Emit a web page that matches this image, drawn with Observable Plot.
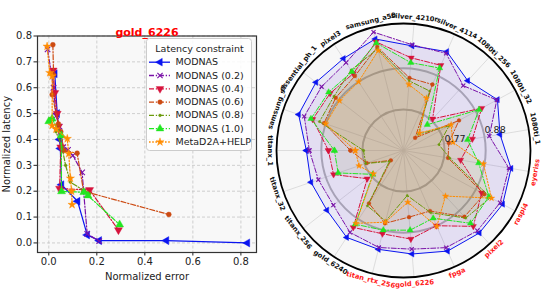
<!DOCTYPE html>
<html><head><meta charset="utf-8">
<script src="https://cdn.jsdelivr.net/npm/d3@7"></script>
<script src="https://cdn.jsdelivr.net/npm/@observablehq/plot@0.6"></script>
<style>
body{margin:0;background:#fff;font-family:"DejaVu Sans",sans-serif;}
#wrap{position:relative;width:541px;height:293px;overflow:hidden;background:#fff;}
#wrap svg{position:absolute;}
</style></head><body><div id="wrap"></div>
<script>
// ---------- data ----------
const seriesNames = ["MODNAS","MODNAS (0.2)","MODNAS (0.4)","MODNAS (0.6)","MODNAS (0.8)","MODNAS (1.0)","MetaD2A+HELP"];
const plotTitle = "gold_6226";
const xTicks = [0.0,0.2,0.4,0.6,0.8];
const yTicks = [0.0,0.1,0.2,0.3,0.4,0.5,0.6,0.7,0.8];

// Pareto fronts: normalized error / normalized latency
const errMODNAS = [0.025,0.035,0.045,0.048,0.053,0.12,0.16,0.21,0.49,0.827];
const latMODNAS = [0.654,0.50,0.40,0.365,0.225,0.161,0.031,0.009,0.009,0.0];
const err02 = [-0.005,0.02,0.03,0.045,0.06,0.08,0.10,0.139,0.145,0.16,0.21];
const lat02 = [0.748,0.60,0.49,0.45,0.37,0.36,0.338,0.273,0.20,0.035,0.007];
const err04 = [0.018,0.025,0.035,0.04,0.05,0.045,0.17,0.29];
const lat04 = [0.667,0.58,0.50,0.45,0.37,0.21,0.205,0.05];
const err06 = [0.017,0.02,0.014,0.04,0.05,0.063,0.118,0.145,0.50];
const lat06 = [0.766,0.65,0.573,0.46,0.43,0.357,0.347,0.20,0.11];
const err08 = [0.005,0.03,0.055,0.07,0.09,0.15,0.17];
const lat08 = [0.48,0.43,0.37,0.30,0.235,0.20,0.19];
const err10 = [0.0,0.014,0.052,0.053,0.146,0.163,0.295];
const lat10 = [0.47,0.48,0.415,0.199,0.196,0.183,0.071];
const errHELP = [-0.007,0.004,0.014,0.014,0.03,0.077,0.083,0.09,0.095,0.097];
const latHELP = [0.76,0.658,0.645,0.454,0.44,0.403,0.345,0.25,0.20,0.148];

// Radar: devices (clockwise from the left) and values per series
const devices = ["titanx_1","samsung_s7","essential_ph_1","pixel3","samsung_a50","silver_4210r","silver_4114","1080ti_256","1080ti_32","1080ti_1","eyeriss","raspi4","pixel2","fpga","gold_6226","titan_rtx_256","gold_6240","titanx_256","titanx_32"];
const redDevices = ["eyeriss","raspi4","pixel2","fpga","gold_6226","titan_rtx_256"];
const radialTicks = [0.77,0.88];
const radialDomain = [0.66,1.0];
const radMODNAS = [0.920,0.957,0.957,0.954,0.968,0.941,0.949,0.914,0.946,0.922,0.952,0.962,0.960,0.954,0.938,0.933,0.938,0.920,0.922];
const rad02 = [0.912,0.941,0.938,0.941,0.987,0.944,0.944,0.896,0.944,0.893,0.946,0.954,0.952,0.944,0.925,0.928,0.922,0.898,0.901];
const rad04 = [0.861,0.917,0.909,0.906,0.960,0.909,0.909,0.775,0.898,0.847,0.815,0.898,0.936,0.880,0.898,0.890,0.906,0.783,0.858];
const rad06 = [0.802,0.885,0.890,0.898,0.946,0.855,0.853,0.706,0.829,0.783,0.781,0.906,0.901,0.837,0.839,0.861,0.829,0.703,0.764];
const rad08 = [0.767,0.898,0.896,0.917,0.941,0.847,0.834,0.719,0.799,0.756,0.786,0.925,0.906,0.842,0.781,0.855,0.837,0.708,0.767];
const rad10 = [0.845,0.922,0.914,0.912,0.957,0.896,0.901,0.754,0.890,0.834,0.864,0.920,0.925,0.858,0.874,0.880,0.896,0.764,0.845];
const radHELP = [0.789,0.880,0.877,0.880,0.936,0.837,0.813,0.724,0.805,0.794,0.877,0.928,0.826,0.882,0.799,0.858,0.893,0.762,0.786];

// ---------- styles ----------
const DD = "5,1.8,1.3,1.8";
const styles = [
  {color:"#0a14f0", dash:null, symbol:"triangle", rotate:-90, filled:true, k:1.15, fo:0.06},
  {color:"#7a12a8", dash:DD, symbol:"times", rotate:0, filled:false, k:1.0, fo:0.05},
  {color:"#d6133c", dash:DD, symbol:"triangle", rotate:180, filled:true, k:1.15, fo:0.06},
  {color:"#cc4a12", dash:DD, symbol:"circle", rotate:0, filled:true, k:0.95, fo:0.07},
  {color:"#6b9a0c", dash:DD, symbol:"circle", rotate:0, filled:true, k:0.55, fo:0.07},
  {color:"#22e622", dash:DD, symbol:"triangle", rotate:0, filled:true, k:1.15, fo:0.06},
  {color:"#ff8c00", dash:"1.6,1.6", symbol:"star", rotate:0, filled:true, k:1.0, fo:0.08}
];
const errs = [errMODNAS,err02,err04,err06,err08,err10,errHELP];
const lats = [latMODNAS,lat02,lat04,lat06,lat08,lat10,latHELP];
const rads = [radMODNAS,rad02,rad04,rad06,rad08,rad10,radHELP];

function seriesMarks(pts, st, r, sw) {
  return [
    Plot.line(pts, {x:"x", y:"y", stroke:st.color, strokeWidth:sw, strokeDasharray:st.dash || undefined}),
    Plot.dot(pts, {x:"x", y:"y", symbol:st.symbol, r:r*st.k, rotate:st.rotate,
      fill: st.filled ? st.color : "none", stroke: st.color, strokeWidth: st.filled ? 0.4 : 1.1})
  ];
}

const wrap = document.getElementById("wrap");
const font = "DejaVu Sans";

// ---------- left: Pareto plot ----------
const leftMarks = [
  Plot.frame({fill:"#f8f8f8", stroke:"none"}),
  Plot.ruleX(xTicks, {stroke:"#c4c4c4", strokeWidth:0.8, strokeDasharray:"3,2"}),
  Plot.ruleY(yTicks, {stroke:"#c4c4c4", strokeWidth:0.8, strokeDasharray:"3,2"})
];
seriesNames.forEach((n, i) => {
  const pts = errs[i].map((e, j) => ({x:e, y:lats[i][j]}));
  leftMarks.push(...seriesMarks(pts, styles[i], 2.6, 1.2));
});
leftMarks.push(Plot.frame({stroke:"#333", strokeWidth:1.2}));
leftMarks.push(Plot.text([plotTitle], {frameAnchor:"top", dy:-7.5, fill:"#ff0000", fontWeight:"bold", fontSize:11}));

const left = Plot.plot({
  width:270, height:293,
  marginLeft:37, marginRight:14, marginTop:35.5, marginBottom:41,
  style:{fontFamily:font, fontSize:"10px", background:"transparent", color:"#222", overflow:"visible"},
  x:{domain:[-0.047,0.865], ticks:xTicks, tickFormat:d3.format(".1f"), tickSize:3.5, tickPadding:2,
     label:"Normalized error", labelAnchor:"center", labelOffset:27, labelArrow:"none"},
  y:{domain:[-0.037,0.8], ticks:yTicks, tickFormat:d3.format(".1f"), tickSize:3.5, tickPadding:2,
     label:"Normalized latency", labelAnchor:"center", labelOffset:35, labelArrow:"none"},
  marks:leftMarks
});
left.style.left = "0px"; left.style.top = "0px";
wrap.appendChild(left);

// ---------- legend ----------
const legMarks = [
  Plot.rect([0], {x1:0.5, x2:105.5, y1:0.5, y2:112.5, fill:"white", fillOpacity:0.85, stroke:"#cccccc", rx:3}),
  Plot.text(["Latency constraint"], {x:53, y:10, fontSize:9.5, fill:"#222"})
];
seriesNames.forEach((n, i) => {
  const yy = 23.7 + 13.3*i, st = styles[i];
  legMarks.push(Plot.ruleY([yy], {x1:3, x2:24, y:d=>d, stroke:st.color, strokeWidth:1.3, strokeDasharray:st.dash || undefined}));
  legMarks.push(Plot.dot([yy], {x:13.5, y:d=>d, symbol:st.symbol, r:2.5*st.k, rotate:st.rotate,
    fill: st.filled ? st.color : "none", stroke:st.color, strokeWidth: st.filled ? 0.4 : 1.1}));
  legMarks.push(Plot.text([n], {x:29, y:yy, textAnchor:"start", fontSize:9.5, fill:"#222"}));
});
const legend = Plot.plot({
  width:106, height:113, margin:0,
  x:{domain:[0,106], range:[0,106], axis:null},
  y:{domain:[0,113], range:[0,113], axis:null},
  style:{fontFamily:font, background:"transparent", overflow:"visible"},
  marks:legMarks
});
legend.style.left = "146px"; legend.style.top = "37.5px";
wrap.appendChild(legend);

// ---------- right: radar ----------
const R = 127;
const rS = d3.scaleLinear().domain(radialDomain).range([0, R]);
const N = devices.length;
const ang = i => (270 + i*360/N) * Math.PI/180;
const pt = (i, v) => ({x: rS(v)*Math.sin(ang(i)), y: rS(v)*Math.cos(ang(i))});
const origin = [{x:0, y:0}];

const radarMarks = [
  Plot.dot(origin, {x:"x", y:"y", r:R, fill:"#f7f7f7", stroke:"none"}),
  Plot.link(devices, {x1:0, y1:0, x2:(d,i)=>R*Math.sin(ang(i)), y2:(d,i)=>R*Math.cos(ang(i)), stroke:"#d6d6d6", strokeWidth:0.8}),
  ...radialTicks.map(t => Plot.dot(origin, {x:"x", y:"y", r:rS(t), fill:"none", stroke:"#b4b4b4", strokeWidth:2}))
];
rads.forEach((vals, s) => {
  const pts = vals.map((v, i) => pt(i, v));
  radarMarks.push(Plot.line([...pts, pts[0]], {x:"x", y:"y", fill:styles[s].color, fillOpacity:styles[s].fo, stroke:"none"}));
});
rads.forEach((vals, s) => {
  const pts = vals.map((v, i) => pt(i, v));
  radarMarks.push(...seriesMarks([...pts, pts[0]], styles[s], 2.0, 1.0));
});
radarMarks.push(Plot.dot(origin, {x:"x", y:"y", r:R, fill:"none", stroke:"#000", strokeWidth:1.8}));
radarMarks.push(Plot.text(radialTicks, {
  x:t => (rS(t)+1)*Math.sin(77*Math.PI/180), y:t => (rS(t)+1)*Math.cos(77*Math.PI/180),
  text:d=>String(d), textAnchor:"start", dy:-2, fontSize:9.5, fill:"#222"}));
const labRot = i => { let c = (270 + i*360/N) % 360; return (c > 90 && c <= 270) ? c - 180 : (c > 270 ? c - 360 : c); };
const labData = devices.map((d, i) => ({d, i, red: redDevices.includes(d)}));
const LR = 133.5;
const labOpts = fill => ({x:o=>LR*Math.sin(ang(o.i)), y:o=>LR*Math.cos(ang(o.i)), text:"d", rotate:o=>labRot(o.i),
  fontSize:6.8, fontWeight:"bold", fill, textAnchor:"middle", lineAnchor:"middle"});
radarMarks.push(Plot.text(labData.filter(o=>!o.red), labOpts("#111")));
radarMarks.push(Plot.text(labData.filter(o=>o.red), labOpts("#ff1a1a")));

const right = Plot.plot({
  width:271, height:293, margin:0,
  x:{domain:[-133,138], range:[0,271], axis:null},
  y:{domain:[-143,150], range:[293,0], axis:null},
  style:{fontFamily:font, background:"transparent", overflow:"visible"},
  marks:radarMarks
});
right.style.left = "270px"; right.style.top = "0px";
wrap.appendChild(right);
</script></body></html>
